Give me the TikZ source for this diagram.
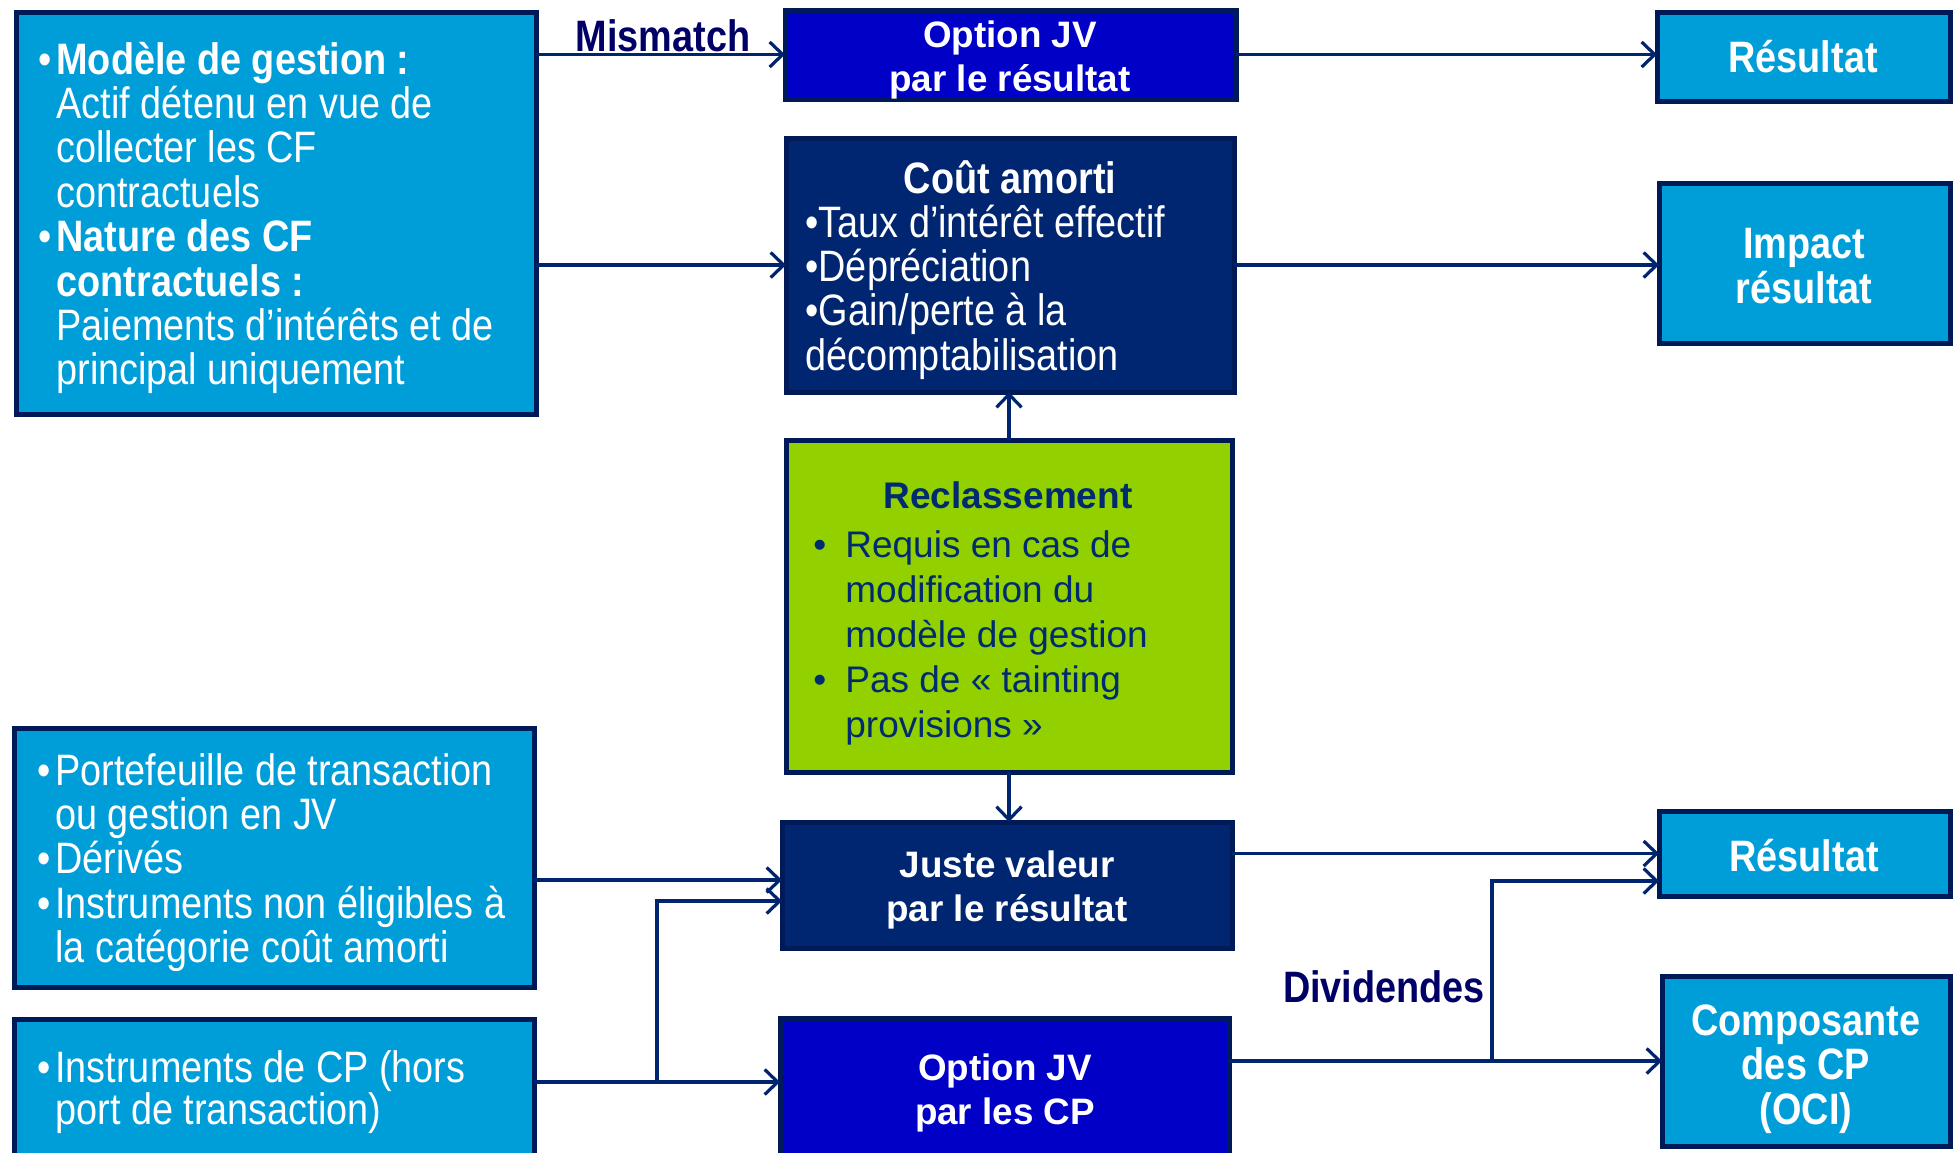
\documentclass[tikz,border=0pt]{standalone}
\usepackage{fontspec}
\setmainfont{Liberation Sans}
\newfontfamily\narrowfont[FakeStretch=0.86]{Liberation Sans}
\usetikzlibrary{arrows.meta,fit}

\definecolor{lightblue}{HTML}{009ED9}
\definecolor{edgenavy}{HTML}{001A57}
\definecolor{deepnavy}{HTML}{002672}
\definecolor{royal}{HTML}{0000C6}
\definecolor{lime}{HTML}{92D000}
\definecolor{inknavy}{HTML}{002B70}
\definecolor{labelink}{HTML}{000066}
\definecolor{wire}{HTML}{00246E}

% fixed line pitch, whatever the glyph heights
\newcommand\fixedpitch{\lineskiplimit=-40pt\relax}
\newcommand\hangbullet[1]{\llap{\textbullet\hspace{#1}}}

\tikzset{
  box/.style={draw=edgenavy, line width=2.5pt, inner sep=0pt, outer sep=0pt},
  arr/.style={draw=wire, line width=1.6pt,
    -{Straight Barb[length=6.5pt,width=12.5pt,line width=1.6pt]}},
  nar/.style={font=\narrowfont\fontsize{22}{22.2}\selectfont\fixedpitch, text=white,
    inner sep=0pt, align=left},
  narb/.style={font=\narrowfont\bfseries\fontsize{22}{22.4}\selectfont\fixedpitch,
    text=white, inner sep=0pt, align=center},
  wideb/.style={font=\bfseries\fontsize{18.4}{21.6}\selectfont\fixedpitch, text=white,
    inner sep=0pt, align=center},
  lbl/.style={font=\narrowfont\bfseries\fontsize{22}{22.2}\selectfont, text=labelink,
    inner sep=0pt},
}

\begin{document}
\begin{tikzpicture}[x=0.5pt,y=-0.5pt]
\useasboundingbox (0,0) rectangle (1955,1152);
\clip (0,0) rectangle (1955,1152);
\fill[white] (0,0) rectangle (1955,1152);

% ---- boxes ----
\node[box, fill=lightblue, fit={(16,12)(536,414)}] (A) {};
\node[box, fill=royal, fit={(785,10)(1236,99)}] (OJ1) {};
\node[box, fill=lightblue, fit={(1657,12)(1950,101)}] (R1) {};
\node[box, fill=deepnavy, fit={(786,138)(1234,392)}] (CA) {};
\node[box, fill=lightblue, fit={(1659,183)(1950,343)}] (IR) {};
\node[box, fill=lime, fit={(786,440)(1232,772)}] (RC) {};
\node[box, fill=deepnavy, fit={(782,822)(1232,948)}] (JV) {};
\node[box, fill=lightblue, fit={(14,728)(534,987)}] (B) {};
\node[box, fill=lightblue, fit={(14,1019)(534,1185)}] (C) {};
\node[box, fill=royal, fit={(780,1018)(1229,1185)}] (OJ2) {};
\node[box, fill=lightblue, fit={(1659,811)(1950,896)}] (R2) {};
\node[box, fill=lightblue, fit={(1662,976)(1950,1146)}] (CO) {};

% ---- texts ----
\node[nar, anchor=west] (Atxt) at (56,218) {%
  \hangbullet{2.5pt}\textbf{Modèle de gestion :}\\
  Actif détenu en vue de\\
  collecter les CF\\
  contractuels\\
  \hangbullet{2.5pt}\textbf{Nature des CF}\\
  \textbf{contractuels :}\\
  Paiements d’intérêts et de\\
  principal uniquement};

\node[nar, anchor=west] (Btxt) at (55,862.5) {%
  \hangbullet{2.5pt}Portefeuille de transaction\\
  ou gestion en JV\\
  \hangbullet{2.5pt}Dérivés\\
  \hangbullet{2.5pt}Instruments non éligibles à\\
  la catégorie coût amorti};

\node[nar, anchor=west, font=\narrowfont\fontsize{22}{21}\selectfont\fixedpitch]
  (Ctxt) at (55,1092) {%
  \hangbullet{2.5pt}Instruments de CP (hors\\
  port de transaction)};

\node[wideb] (OJ1txt) at (1010,60) {Option JV\\par le résultat};

\node[narb] (CAtitle) at (1010,177) {Coût amorti};
\node[nar, anchor=west] (CAtxt) at (805,292) {%
  \textbullet Taux d’intérêt effectif\\
  \textbullet Dépréciation\\
  \textbullet Gain/perte à la\\
  décomptabilisation};

\node[font=\bfseries\fontsize{18.5}{22.4}\selectfont, text=inknavy, inner sep=0pt]
  (RCtitle) at (1008,495) {Reclassement};
\node[font=\fontsize{18.5}{22.5}\selectfont\fixedpitch, text=inknavy, inner sep=0pt,
  align=left, anchor=west] (RCtxt) at (845,638) {%
  \hangbullet{9.5pt}Requis en cas de\\
  modification du\\
  modèle de gestion\\
  \hangbullet{9.5pt}Pas de « tainting\\
  provisions »};

\node[wideb] (JVtxt) at (1007,890) {Juste valeur\\par le résultat};
\node[wideb] (OJ2txt) at (1005,1093) {Option JV\\par les CP};

\node[narb] (R1txt) at (1803,57) {Résultat};
\node[narb] (IRtxt) at (1804,266) {Impact\\résultat};
\node[narb] (R2txt) at (1804,856) {Résultat};
\node[narb] (COtxt) at (1806,1069) {Composante\\des CP\\(OCI)};

\node[lbl, anchor=base] (mismatch) at (663,51) {Mismatch};
\node[lbl] (dividendes) at (1384,987) {Dividendes};

% ---- connectors ----
\draw[arr] (A.east |- OJ1.west) -- (OJ1.west);
\draw[arr] (OJ1.east) -- (OJ1.east -| R1.west);
\draw[arr] (A.east |- CA.west) -- (CA.west);
\draw[arr] (CA.east) -- (CA.east -| IR.west);
\draw[arr] (RC.north) -- (RC.north |- CA.south);
\draw[arr] (RC.south) -- (RC.south |- JV.north);

\coordinate (jvA) at ([yshift=2.5pt]JV.west);
\coordinate (jvB) at ([yshift=-8pt]JV.west);
\draw[arr] (B.east |- jvA) -- (jvA);
\coordinate (split1) at (657,1082);
\draw[arr] (C.east |- split1) -- (OJ2.west |- split1);
\draw[arr] (split1) |- (jvB);

\draw[arr] (JV.east |- R2.west) -- (R2.west);
\draw[arr] (OJ2.east |- CO.west) -- (CO.west);
\coordinate (split2) at (1492,1061);
\coordinate (r2B) at ([yshift=-13.75pt]R2.west);
\draw[arr] (split2) |- (r2B);
\end{tikzpicture}
\end{document}
